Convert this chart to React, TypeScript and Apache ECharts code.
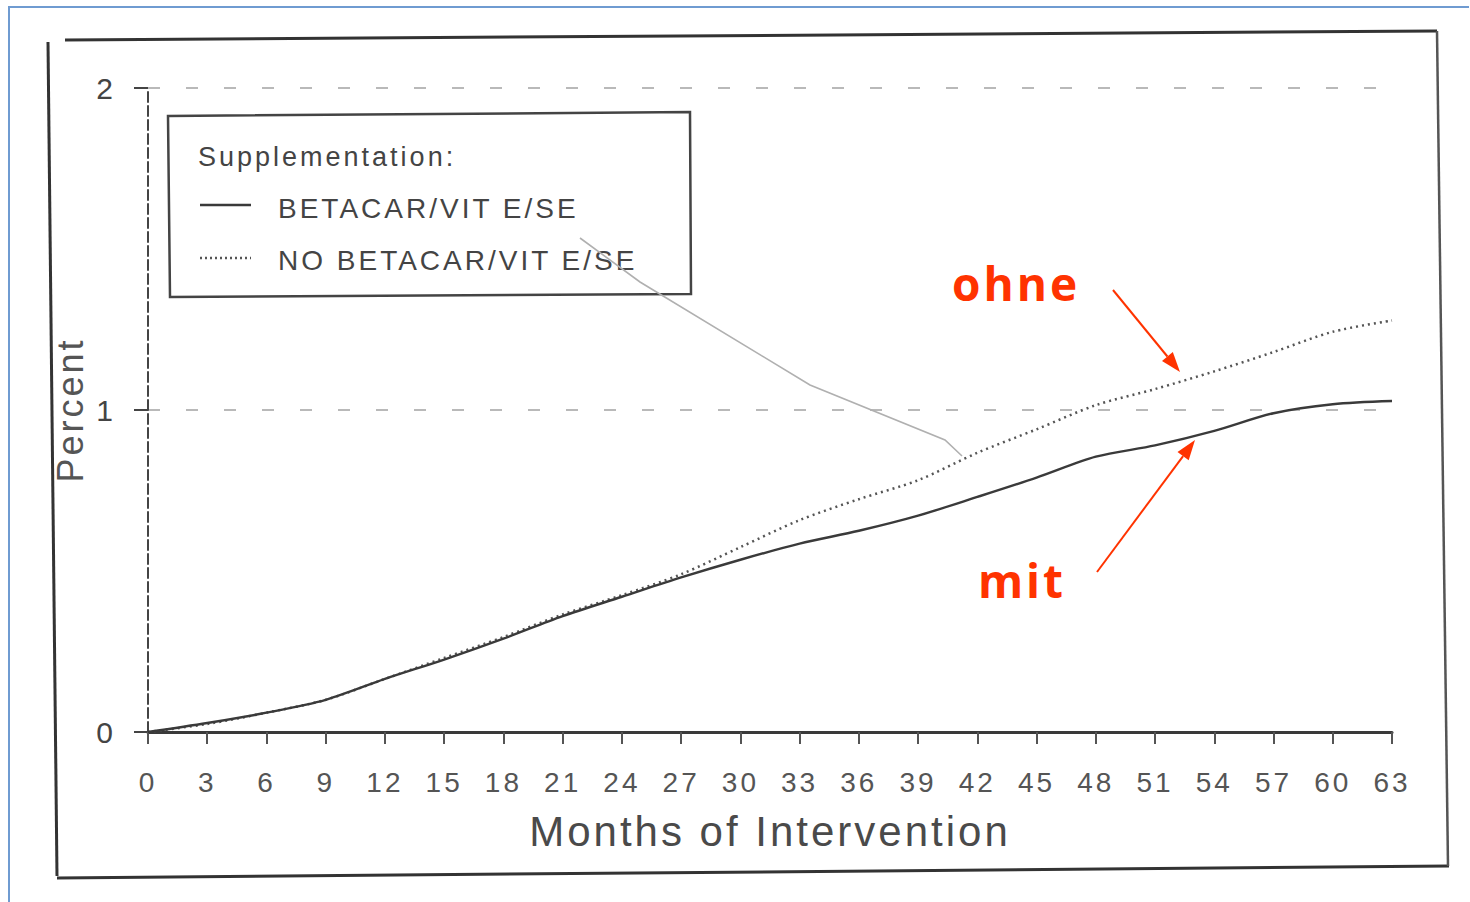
import React, { useEffect, useRef } from "react";
import * as echarts from "echarts";

const months = [0, 3, 6, 9, 12, 15, 18, 21, 24, 27, 30, 33, 36, 39, 42, 45, 48, 51, 54, 57, 60, 63];
const withSupplement = [0, 0.028, 0.06, 0.1, 0.165, 0.225, 0.29, 0.36, 0.42, 0.48, 0.535, 0.585, 0.625, 0.672, 0.73, 0.79, 0.855, 0.89, 0.935, 0.99, 1.018, 1.028];
const withoutSupplement = [0, 0.025, 0.06, 0.1, 0.165, 0.23, 0.295, 0.365, 0.425, 0.49, 0.574, 0.658, 0.723, 0.782, 0.867, 0.94, 1.015, 1.065, 1.12, 1.18, 1.243, 1.278];
const seriesNames = ["BETACAR/VIT E/SE", "NO BETACAR/VIT E/SE"];
const yTicks = [0, 1, 2];
const legendTitle = "Supplementation:";
const xAxisName = "Months of Intervention";
const yAxisName = "Percent";
const annotations = ["ohne", "mit"];

const INK = "#3a3a3a";
const RED = "#ff3300";

export default function App() {
  const ref = useRef<HTMLDivElement>(null);
  useEffect(() => {
    if (!ref.current) return;
    const chart = echarts.init(ref.current, null, { renderer: "svg" });
    const font = "Liberation Sans, Arial, sans-serif";
    chart.setOption({
      animation: false,
      backgroundColor: "#ffffff",
      textStyle: { fontFamily: font },
      grid: { left: 148, right: 78, top: 88, bottom: 170 },
      xAxis: {
        type: "value",
        min: 0,
        max: 63,
        interval: 3,
        name: xAxisName,
        nameLocation: "middle",
        nameGap: 78,
        nameTextStyle: { fontSize: 42, color: "#4a4a4a", fontFamily: font },
        axisLine: { show: true, lineStyle: { color: INK, width: 3 } },
        axisTick: { show: true, length: 12, lineStyle: { color: "#555", width: 2 } },
        axisLabel: { fontSize: 28, color: "#555", margin: 36, fontFamily: font },
        splitLine: { show: false },
      },
      yAxis: {
        type: "value",
        min: yTicks[0],
        max: yTicks[yTicks.length - 1],
        interval: 1,
        name: yAxisName,
        nameLocation: "middle",
        nameGap: 60,
        nameRotate: 90,
        nameTextStyle: { fontSize: 36, color: "#555", fontFamily: font },
        axisLine: { show: true, lineStyle: { color: "#444", width: 2, type: [10, 4] } },
        axisTick: { show: true, length: 14, lineStyle: { color: "#444", width: 2 } },
        axisLabel: { fontSize: 30, color: "#444", margin: 32, fontFamily: font },
        splitLine: { show: true, lineStyle: { color: "#8a8a8a", width: 2, type: [12, 26], opacity: 0.6 } },
      },
      series: [
        {
          name: seriesNames[0],
          type: "line",
          smooth: 0.3,
          symbol: "none",
          data: months.map((m, i) => [m, withSupplement[i]]),
          lineStyle: { color: INK, width: 2.4 },
          z: 3,
        },
        {
          name: seriesNames[1],
          type: "line",
          smooth: 0.3,
          symbol: "none",
          data: months.map((m, i) => [m, withoutSupplement[i]]),
          lineStyle: { color: "#555", width: 2.5, type: [2, 4] },
          z: 2,
        },
      ],
      graphic: [
        // blue image border
        { type: "polyline", shape: { points: [[9, 905], [9, 7], [1469, 7]] }, style: { stroke: "#6f9bd1", lineWidth: 2, fill: "none" } },
        // outer frame
        { type: "line", shape: { x1: 65, y1: 40, x2: 1437, y2: 31 }, style: { stroke: "#333", lineWidth: 3 } },
        { type: "line", shape: { x1: 48, y1: 42, x2: 57, y2: 876 }, style: { stroke: "#333", lineWidth: 3 } },
        { type: "line", shape: { x1: 57, y1: 878, x2: 1449, y2: 866 }, style: { stroke: "#333", lineWidth: 3 } },
        { type: "line", shape: { x1: 1437, y1: 31, x2: 1448, y2: 866 }, style: { stroke: "#555", lineWidth: 2.5 } },
        // legend box
        { type: "polygon", shape: { points: [[168, 116], [690, 112], [691, 294], [170, 297]] }, style: { stroke: "#444", lineWidth: 2.5, fill: "#ffffff" }, z: 10 },
        { type: "text", x: 198, y: 157, z: 11, style: { text: legendTitle, fontSize: 27, fill: "#444", fontFamily: font, verticalAlign: "middle" } },
        { type: "line", z: 11, shape: { x1: 200, y1: 205, x2: 251, y2: 205 }, style: { stroke: INK, lineWidth: 2.5 } },
        { type: "text", x: 278, y: 208, z: 11, style: { text: seriesNames[0], fontSize: 28, fill: "#444", fontFamily: font, verticalAlign: "middle" } },
        { type: "line", z: 11, shape: { x1: 200, y1: 258, x2: 251, y2: 258 }, style: { stroke: "#555", lineWidth: 2.5, lineDash: [2, 3] } },
        { type: "text", x: 278, y: 260, z: 11, style: { text: seriesNames[1], fontSize: 28, fill: "#444", fontFamily: font, verticalAlign: "middle" } },
        // grey leader line
        { type: "polyline", z: 11, shape: { points: [[580, 238], [640, 282], [810, 385], [945, 440], [962, 456]] }, style: { stroke: "#b0b0b0", lineWidth: 1.6, fill: "none" } },
        // red annotations
        { type: "text", x: 1016, y: 283, z: 12, style: { text: annotations[0], fontSize: 46, fontWeight: "bold", fill: RED, fontFamily: "Open Sans, sans-serif", align: "center", verticalAlign: "middle" } },
        { type: "text", x: 1022, y: 580, z: 12, style: { text: annotations[1], fontSize: 46, fontWeight: "bold", fill: RED, fontFamily: "Open Sans, sans-serif", align: "center", verticalAlign: "middle" } },
        { type: "line", z: 12, shape: { x1: 1113, y1: 290, x2: 1167.4, y2: 356.5 }, style: { stroke: RED, lineWidth: 2 } },
        { type: "polygon", z: 12, shape: { points: [[1180, 372], [1162, 360.9], [1172.8, 352.1]] }, style: { fill: RED } },
        { type: "line", z: 12, shape: { x1: 1097, y1: 572, x2: 1183.1, y2: 456.1 }, style: { stroke: RED, lineWidth: 2 } },
        { type: "polygon", z: 12, shape: { points: [[1195, 440], [1188.7, 460.3], [1177.5, 451.9]] }, style: { fill: RED } },
      ],
    });
    return () => chart.dispose();
  }, []);
  return (
    <>
      <style>{"#chart-root text{letter-spacing:3px}"}</style>
      <div
        id="chart-root"
        ref={ref}
        style={{ position: "fixed", left: 0, top: 0, width: 1470, height: 902, background: "#fff" }}
      />
    </>
  );
}
